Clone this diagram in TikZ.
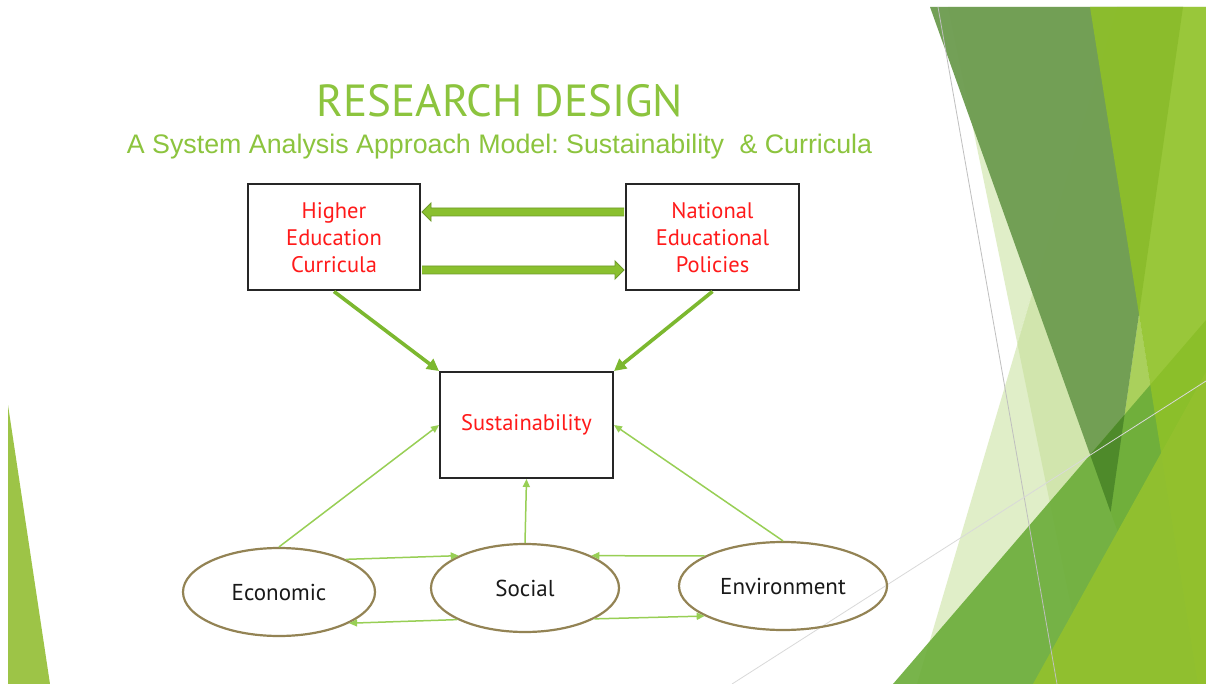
\documentclass[tikz,border=0pt]{standalone}
\usepackage{fontspec}
\setmainfont{Liberation Sans}
\newfontfamily\boxfont{PT Sans}
\usetikzlibrary{arrows.meta,shapes.geometric,calc}
\definecolor{titlegreen}{HTML}{8CC43E}
\definecolor{boxred}{HTML}{FF1A1A}
\definecolor{ellbrown}{HTML}{938354}
\definecolor{thickgreen}{HTML}{8AC02F}
\definecolor{thickedge}{HTML}{6E9A2A}
\definecolor{diaggreen}{HTML}{7CB82F}
\definecolor{thingreen}{HTML}{98CF55}
\definecolor{paleg}{HTML}{C3DE93}
\definecolor{darkg}{HTML}{6F9D52}
\definecolor{darkerg}{HTML}{4E8A2A}
\definecolor{brightg}{HTML}{90C226}
\definecolor{medg}{HTML}{6AAC38}
\definecolor{satg}{HTML}{93C12E}
\definecolor{leftg}{HTML}{9DC447}
\frenchspacing
\begin{document}
\begin{tikzpicture}[x=1pt,y=-1pt,
  stepbox/.style={draw=black!85, line width=2pt, minimum width=172pt, minimum height=106pt,
    inner sep=0pt, align=center, text=boxred, font=\boxfont\fontsize{22.5}{27}\selectfont},
  ell/.style={ellipse, draw=ellbrown, line width=2.2pt, minimum height=88pt, inner sep=0pt,
    text=black!90, font=\boxfont\fontsize{23}{25}\selectfont},
  blockarrow/.style={fill=thickgreen, draw=thickedge, line width=0.9pt, line join=miter},
  diagarrow/.style={line width=3.6pt, draw=diaggreen, -{Triangle[length=12pt,width=12pt]}},
  thinarrow/.style={line width=1.5pt, draw=thingreen, -{Triangle[length=8pt,width=7pt]}},
  greyline/.style={draw=black!25, line width=0.8pt}
]
\useasboundingbox (0,0) rectangle (1206,684);
\fill[white] (0,0) rectangle (1206,684);
% left decoration
\fill[leftg] (8,405) -- (8,684) -- (50,684) -- cycle;
% right decoration
\fill[paleg, opacity=0.5] (948,7) -- (1117,7) -- (1017,342) -- cycle;
\fill[paleg, opacity=0.5] (917,684) -- (1117,7) -- (1206,7) -- (1206,684) -- cycle;
\fill[paleg, opacity=0.5] (1117,7) -- (1017,342) -- (1087,684) -- (1206,684) -- (1206,7) -- cycle;
\fill[brightg, opacity=0.6] (1139,314) -- (1110.6,512) -- (1172,684) -- (1198,684) -- cycle;
\fill[darkg, opacity=0.97] (930,7) -- (1183,7) -- (1110.6,512) -- cycle;
\fill[medg, opacity=0.9] (893,684) -- (1206,320) -- (1206,684) -- cycle;
\begin{scope}
  \clip (893,684) -- (1206,320) -- (1206,684) -- cycle;
  \fill[darkerg] (930,7) -- (1183,7) -- (1110.6,512) -- cycle;
\end{scope}
\fill[brightg, opacity=0.85] (1090,7) -- (1206,7) -- (1206,684) -- (1198,684) -- cycle;
\fill[satg, opacity=0.92] (1033,684) -- (1206,372) -- (1206,684) -- cycle;
\draw[greyline] (938,7) -- (1057,684);
\draw[greyline, draw=black!15] (732,684) -- (1206,381);
% titles
\node[anchor=base, text=titlegreen, font=\boxfont\fontsize{45}{45}\selectfont, inner sep=0pt] (title) at (500,117) {RESEARCH DESIGN};
\node[anchor=base, text=titlegreen, font=\fontsize{26.8}{27}\selectfont, inner sep=0pt] (subtitle) at (499.5,154) {A System Analysis Approach Model: Sustainability\hspace{0.3em} \& Curricula};
% boxes
\node[stepbox] (hec) at (334,237.5) {Higher\\Education\\Curricula};
\node[stepbox, minimum width=173pt] (nep) at (712.5,237.5) {National\\Educational\\Policies};
\node[stepbox, minimum width=173pt] (sus) at (526.5,425) {Sustainability};
% ellipses
\node[ell, minimum width=192pt] (eco) at (279,592) {Economic};
\node[ell, minimum width=188pt] (soc) at (525,588) {Social};
\node[ell, minimum width=208pt] (env) at (783,586) {Environment};
% thick block arrows between boxes
\path let \p1=([yshift=25.5pt]nep.west), \p2=([yshift=25.5pt]hec.east) in
  [blockarrow] (\x1-1pt,\y1+4pt) -- (\x2+10pt,\y1+4pt) -- (\x2+10pt,\y1+9pt) -- (\x2+1pt,\y1)
  -- (\x2+10pt,\y1-9pt) -- (\x2+10pt,\y1-4pt) -- (\x1-1pt,\y1-4pt);
\path let \p1=([yshift=-32.5pt]hec.east), \p2=([yshift=-32.5pt]nep.west) in
  [blockarrow] (\x1+1pt,\y1+4pt) -- (\x2-10pt,\y1+4pt) -- (\x2-10pt,\y1+9pt) -- (\x2-1pt,\y1)
  -- (\x2-10pt,\y1-9pt) -- (\x2-10pt,\y1-4pt) -- (\x1+1pt,\y1-4pt);
% diagonal arrows
\draw[diagarrow] (hec.south) -- (sus.north west);
\draw[diagarrow] (nep.south) -- (sus.north east);
% thin arrows
\draw[thinarrow] (eco.north) -- (sus.west);
\draw[thinarrow] (soc.north) -- (sus.south);
\draw[thinarrow] (env.north) -- (sus.east);
\draw[thinarrow] (eco.26) -- (soc.154);
\draw[thinarrow] (env.159) -- (soc.26);
\draw[thinarrow] (soc.205) -- (eco.336);
\draw[thinarrow] (soc.336) -- (env.201);
\end{tikzpicture}
\end{document}
